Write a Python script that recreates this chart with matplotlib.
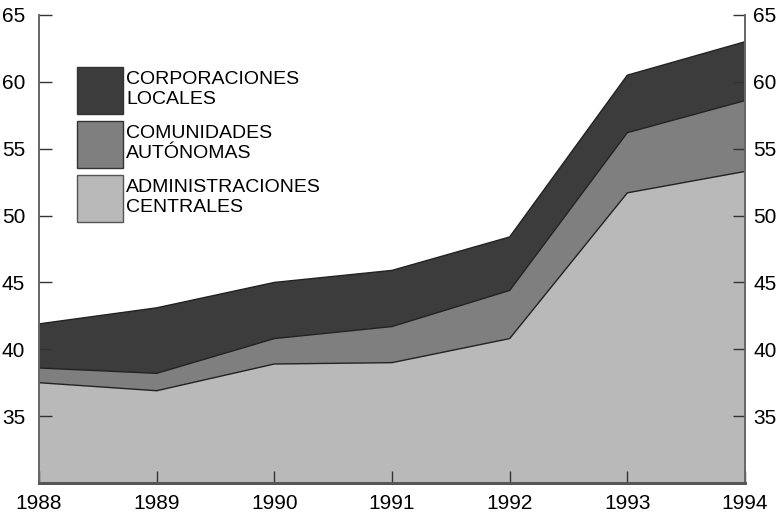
import matplotlib
matplotlib.use("Agg")
import matplotlib.pyplot as plt
import numpy as np
from matplotlib.patches import Patch

plt.rcParams['font.family'] = ['Liberation Sans', 'DejaVu Sans']

years = [1988, 1989, 1990, 1991, 1992, 1993, 1994]
admin_centrales = [37.5, 36.9, 38.9, 39.0, 40.8, 51.7, 53.3]
comunidades_autonomas = [1.1, 1.3, 1.9, 2.7, 3.6, 4.5, 5.3]
corporaciones_locales = [3.3, 4.9, 4.2, 4.2, 4.0, 4.3, 4.4]
labels = ['ADMINISTRACIONES\nCENTRALES', 'COMUNIDADES\nAUTÓNOMAS', 'CORPORACIONES\nLOCALES']
colors = ['#b9b9b9', '#7f7f7f', '#3c3c3c']
yticks = [35, 40, 45, 50, 55, 60, 65]

fig = plt.figure(figsize=(7.81, 5.12), dpi=100)
ax = fig.add_axes([39/781, 1-483/512, (745-39)/781, (483-15)/512])

bottom = np.full(len(years), 30.0)
l1 = np.array(admin_centrales)
l2 = l1 + np.array(comunidades_autonomas)
l3 = l2 + np.array(corporaciones_locales)
ax.fill_between(years, bottom, l1, facecolor=colors[0], edgecolor='none')
ax.fill_between(years, l1, l2, facecolor=colors[1], edgecolor='none')
ax.fill_between(years, l2, l3, facecolor=colors[2], edgecolor='none')
for l in (l1, l2, l3):
    ax.plot(years, l, color='#222222', lw=1.0)

ax.set_xlim(1988, 1994)
ax.set_ylim(30, 65)
ax.set_yticks(yticks)
ax.set_xticks(years)
ax.tick_params(axis='both', direction='in', length=9, width=1, color='#333333',
               labelsize=15)
ax.tick_params(axis='y', pad=10)
ax.tick_params(axis='x', pad=8)

ax2 = ax.twinx()
ax2.set_ylim(30, 65)
ax2.set_yticks(yticks)
ax2.tick_params(axis='y', direction='in', length=9, width=1, color='#333333',
                labelsize=15, pad=6)

for a in (ax, ax2):
    for s in ('left', 'right'):
        a.spines[s].set_color('#666666')
        a.spines[s].set_linewidth(1.2)
    a.spines['top'].set_visible(False)
    a.spines['bottom'].set_color('#555555')
    a.spines['bottom'].set_linewidth(2)

handles = [Patch(facecolor=colors[2], edgecolor='#333333', lw=1),
           Patch(facecolor=colors[1], edgecolor='#333333', lw=1),
           Patch(facecolor=colors[0], edgecolor='#555555', lw=1)]
ax.legend(handles, [labels[2], labels[1], labels[0]], loc='upper left',
          bbox_to_anchor=(77/781, 1-67/512), bbox_transform=fig.transFigure,
          frameon=False, fontsize=14, handlelength=2.37, handleheight=3.34,
          handletextpad=0.15, labelspacing=0.36, borderpad=0, borderaxespad=0)

fig.savefig('out.png', dpi=100)
